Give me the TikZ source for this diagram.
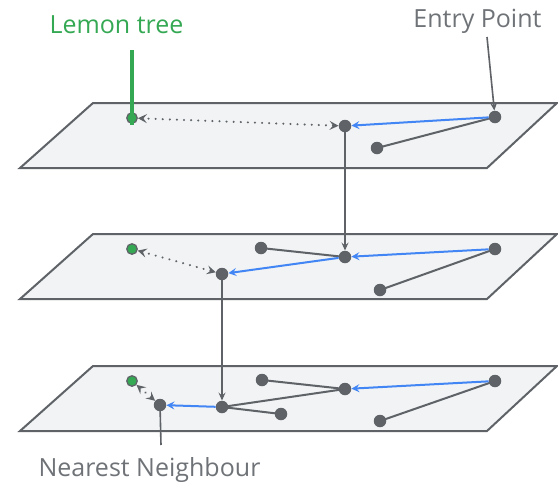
\documentclass[tikz,border=0pt]{standalone}
\usepackage{fontspec}
\setmainfont{Open Sans}
\usetikzlibrary{arrows.meta}
\definecolor{ink}{HTML}{5F6368}
\definecolor{labelgray}{HTML}{6F7377}
\definecolor{planefill}{HTML}{F1F3F4}
\definecolor{hopblue}{HTML}{4285F4}
\definecolor{leafgreen}{HTML}{34A853}
\tikzset{
  plane/.style={draw=ink, fill=planefill, line width=2pt, line join=miter},
  pt/.style={circle, fill=ink, inner sep=0pt, minimum size=12.5pt},
  query/.style={circle, fill=leafgreen, draw=ink, line width=1.3pt, inner sep=0pt, minimum size=10.5pt},
  link/.style={draw=ink, line width=2pt},
  hop/.style={draw=hopblue, line width=2pt, -{Stealth[length=8pt,width=8pt,inset=3pt]}},
  descend/.style={draw=ink, line width=1.6pt, -{Stealth[length=8pt,width=7pt,inset=3pt]}},
  probe/.style={draw=ink, line width=2.2pt, line cap=round, dash pattern=on 0.1pt off 7pt,
    {Stealth[length=9pt,width=9pt,inset=3.5pt,line width=0pt]}-{Stealth[length=9pt,width=9pt,inset=3.5pt]}},
  caption/.style={font=\fontsize{25}{28}\selectfont, inner sep=0pt, anchor=base},
}
\begin{document}
\begin{tikzpicture}[x=1pt,y=-1pt]
\useasboundingbox (0,0) rectangle (558,483);

% three layers of the graph
\draw[plane] (20,168) -- (487,168) -- (557,103) -- (93,103) -- cycle;
\draw[plane] (20,299) -- (487,299) -- (557,234) -- (93,234) -- cycle;
\draw[plane] (20,431) -- (487,431) -- (557,366) -- (93,366) -- cycle;

% top layer
\node[query] (q1) at (132,118) {};
\node[pt] (a1) at (345,126) {};
\node[pt] (a2) at (495,117) {};
\node[pt] (a3) at (377,148) {};

% middle layer
\node[query] (q2) at (132,249) {};
\node[pt] (b1) at (222,274) {};
\node[pt] (b2) at (261,248) {};
\node[pt] (b3) at (345,257) {};
\node[pt] (b4) at (495,249) {};
\node[pt] (b5) at (380,290) {};

% bottom layer
\node[query] (q3) at (132,381) {};
\node[pt] (c1) at (160,405) {};
\node[pt] (c2) at (222,407) {};
\node[pt] (c3) at (262,380) {};
\node[pt] (c4) at (281,414) {};
\node[pt] (c5) at (345,389) {};
\node[pt] (c6) at (495,381) {};
\node[pt] (c7) at (380,421) {};

% graph edges
\draw[link] (a2.center) -- (a3.center);
\draw[link] (b2.center) -- (b3.center);
\draw[link] (b4.center) -- (b5.center);
\draw[link] (c3.center) -- (c5.center);
\draw[link] (c2.center) -- (c5.center);
\draw[link] (c2.center) -- (c4.center);
\draw[link] (c6.center) -- (c7.center);

% greedy search path
\draw[hop] (a2) -- (a1);
\draw[hop] (b4) -- (b3);
\draw[hop] (b3) -- (b1);
\draw[hop] (c6) -- (c5);
\draw[hop] (c2) -- (c1);

% moving down a layer
\draw[descend] (a1.center) -- (b3);
\draw[descend] (b1.center) -- (c2);

% distance to the query
\draw[probe] (a1) -- (q1);
\draw[probe] (b1) -- (q2);
\draw[probe] (c1) -- (q3);

% labels
\node[caption, text=leafgreen] (lt) at (116.5,33) {Lemon tree};
\node[caption, text=labelgray] (ep) at (477.5,27) {Entry Point};
\node[caption, text=labelgray] (nn) at (149.5,476) {Nearest Neighbour};
\coordinate (ltfoot) at (132,50);
\coordinate (epfoot) at (487,37);
\coordinate (nnfoot) at (161,445);
\draw[draw=leafgreen, line width=4pt] (ltfoot) -- ([yshift=-7pt]q1.center);
\draw[descend] (epfoot) -- (a2);
\draw[draw=ink, line width=1.6pt] (c1.center) -- (nnfoot);
\end{tikzpicture}
\end{document}
